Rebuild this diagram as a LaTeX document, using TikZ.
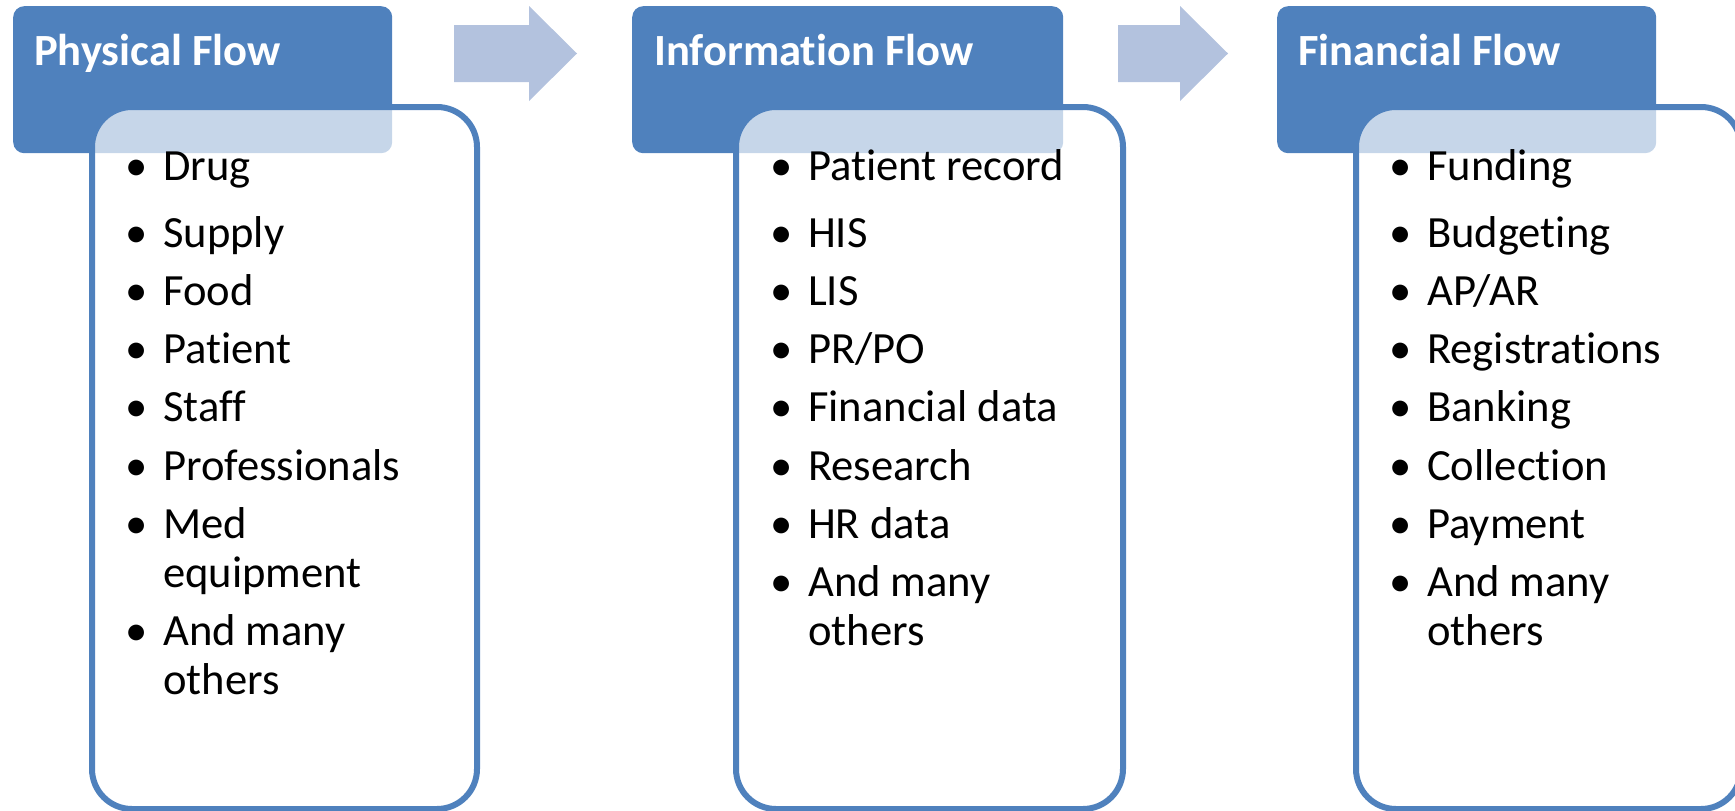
\documentclass[tikz,border=0pt]{standalone}
\usepackage{fontspec}
\setmainfont{Carlito}[Ligatures=NoCommon]
\usetikzlibrary{calc}
\definecolor{accblue}{RGB}{79,129,189}
\definecolor{arrowblue}{RGB}{179,194,222}
\newcommand{\bodyfont}{\fontsize{44.6pt}{49pt}\selectfont}
\tikzset{
  hdrbox/.style={fill=accblue, rounded corners=11pt, anchor=north west, inner sep=0pt, minimum height=147pt},
  listbox/.style={draw=accblue, line width=6pt, fill=white, fill opacity=0.68, rounded corners=40pt, anchor=north west, inner sep=0pt, minimum height=702pt},
  hdrtext/.style={anchor=base west, inner sep=0pt, text=white, font=\bodyfont\bfseries},
  bul/.style={anchor=base, inner sep=0pt, font=\bodyfont},
  itm/.style={anchor=base west, inner sep=0pt, font=\bodyfont},
  flowarrow/.style={fill=arrowblue, draw=none},
}
\newcommand{\flowitem}[4]{%
  \node[bul] (#1b) at (#2,#3) {•};
  \node[itm] (#1) at ($(#2,#3)+(26,0)$) {#4};}
% arrow: #1 name, #2 tail x, #3 tip x
\newcommand{\blockarrow}[3]{%
  \coordinate (#1tail) at (#2,53.5);
  \coordinate (#1tip) at (#3,53.5);
  \fill[flowarrow] ($(#1tail)+(0,-28.5)$) -- ($(#1tip)+(-48,-28.5)$) -- ($(#1tip)+(-48,-47.5)$)
    -- (#1tip) -- ($(#1tip)+(-48,47.5)$) -- ($(#1tip)+(-48,28.5)$) -- ($(#1tail)+(0,28.5)$) -- cycle;}
\begin{document}
\begin{tikzpicture}[x=1pt,y=-1pt]
\useasboundingbox (0,0) rectangle (1735,811);
\clip (0,0) rectangle (1735,811);
% headers
\node[hdrbox, minimum width=379pt] (h1) at (13,6) {};
\node[hdrbox, minimum width=431pt] (h2) at (632,6) {};
\node[hdrbox, minimum width=379pt] (h3) at (1277,6) {};
% arrows
\blockarrow{a1}{454}{577}
\blockarrow{a2}{1118}{1228}
% list boxes
\node[listbox, minimum width=385pt] (b1) at (89,104) {};
\node[listbox, minimum width=387pt] (b2) at (733,104) {};
\node[listbox, minimum width=385pt] (b3) at (1353,104) {};
% header texts
\node[hdrtext] (t1) at (34,65) {Physical Flow};
\node[hdrtext] (t2) at (654,65) {Information Flow};
\node[hdrtext] (t3) at (1298,65) {Financial Flow};
% column 1
\flowitem{p1}{137}{180}{Drug}
\flowitem{p2}{137}{247}{Supply}
\flowitem{p3}{137}{305}{Food}
\flowitem{p4}{137}{363}{Patient}
\flowitem{p5}{137}{421}{Staff}
\flowitem{p6}{137}{480}{Professionals}
\flowitem{p7}{137}{538}{Med}
\node[itm] (p7c) at (163,587) {equipment};
\flowitem{p8}{137}{645}{And many}
\node[itm] (p8c) at (163,694) {others};
% column 2
\flowitem{i1}{782}{180}{Patient record}
\flowitem{i2}{782}{247}{HIS}
\flowitem{i3}{782}{305}{LIS}
\flowitem{i4}{782}{363}{PR/PO}
\flowitem{i5}{782}{421}{Financial data}
\flowitem{i6}{782}{480}{Research}
\flowitem{i7}{782}{538}{HR data}
\flowitem{i8}{782}{596}{And many}
\node[itm] (i8c) at (808,645) {others};
% column 3
\flowitem{f1}{1401}{180}{Funding}
\flowitem{f2}{1401}{247}{Budgeting}
\flowitem{f3}{1401}{305}{AP/AR}
\flowitem{f4}{1401}{363}{Registrations}
\flowitem{f5}{1401}{421}{Banking}
\flowitem{f6}{1401}{480}{Collection}
\flowitem{f7}{1401}{538}{Payment}
\flowitem{f8}{1401}{596}{And many}
\node[itm] (f8c) at (1427,645) {others};
\end{tikzpicture}
\end{document}
